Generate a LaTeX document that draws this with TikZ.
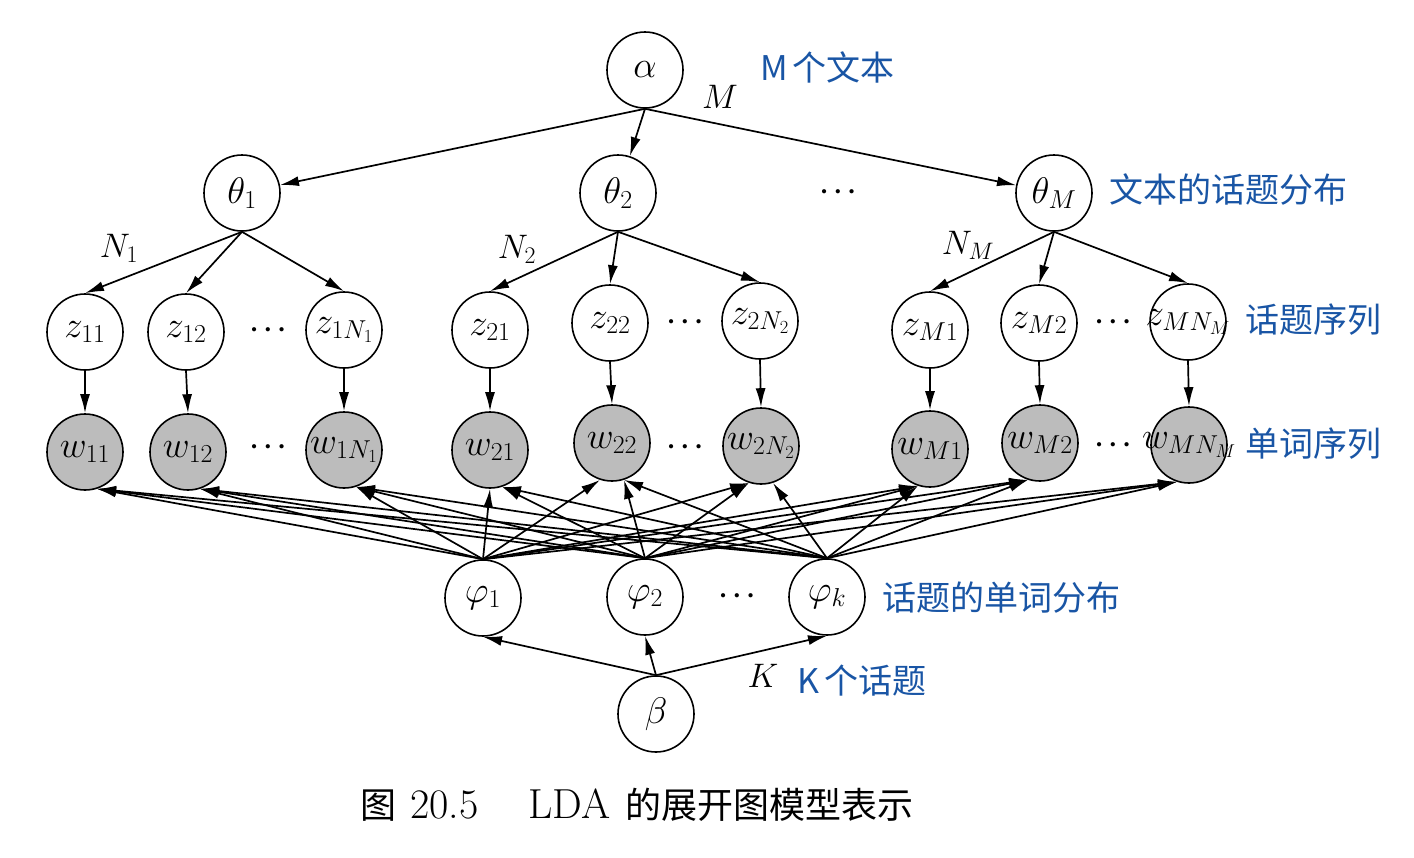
\RequirePackage{fix-cm}
\documentclass[tikz,border=0pt]{standalone}
\usepackage{fontspec}
\newfontfamily\cjk{Noto Sans CJK SC}
\usetikzlibrary{arrows.meta}
\definecolor{lblue}{RGB}{25,85,165}
\definecolor{wgray}{RGB}{188,188,188}
\newcommand{\zb}[1]{\makebox[0pt]{#1}}
\begin{document}
\begin{tikzpicture}[x=1pt,y=-1pt,
  var/.style={circle,draw,fill=white,line width=1.6pt,minimum size=76pt,inner sep=0pt,font=\fontsize{37}{42}\selectfont},
  obs/.style={var,fill=wgray},
  edge/.style={line width=1.7pt,-{Latex[length=19pt,width=10pt]}},
  lab/.style={font=\fontsize{34}{40}\selectfont,inner sep=0pt},
  note/.style={text=lblue,font=\cjk\fontsize{34}{40}\selectfont,anchor=west,inner sep=0pt},
  dots/.style={font=\fontsize{27}{32}\selectfont\boldmath,inner sep=0pt}
]
\fill[white] (0,0) rectangle (1414,857);
\useasboundingbox (0,0) rectangle (1414,857);

% top
\node[var] (a) at (645,70) {$\alpha$};
\node[var] (t1) at (242,193) {$\theta_1$};
\node[var] (t2) at (618,193) {$\theta_2$};
\node[var] (tM) at (1054,193) {$\theta_M$};
\node[dots] (dt) at (838,192) {$\cdots$};

% z row
\node[var] (z11) at (85,332) {\zb{$z_{11}$}};
\node[var] (z12) at (186,332) {\zb{$z_{12}$}};
\node[var] (z1N) at (344,330) {\zb{$z_{1N_1}$}};
\node[var] (z21) at (490,330) {\zb{$z_{21}$}};
\node[var] (z22) at (610,323) {\zb{$z_{22}$}};
\node[var] (z2N) at (760,321) {\zb{$z_{2N_2}$}};
\node[var] (zM1) at (930,330) {\zb{$z_{M1}$}};
\node[var] (zM2) at (1039,323) {\zb{$z_{M2}$}};
\node[var] (zMN) at (1188,322) {\zb{$z_{MN_M}$}};
\node[dots] (dz1) at (268,330) {$\cdots$};
\node[dots] (dz2) at (685,322) {$\cdots$};
\node[dots] (dz3) at (1113,322) {$\cdots$};

% w row
\node[obs] (w11) at (85,452) {\zb{$w_{11}$}};
\node[obs] (w12) at (188,452) {\zb{$w_{12}$}};
\node[obs] (w1N) at (344,450) {\zb{$w_{1N_1}$}};
\node[obs] (w21) at (490,450) {\zb{$w_{21}$}};
\node[obs] (w22) at (612,443) {\zb{$w_{22}$}};
\node[obs] (w2N) at (761,446) {\zb{$w_{2N_2}$}};
\node[obs] (wM1) at (930,449) {\zb{$w_{M1}$}};
\node[obs] (wM2) at (1040,443) {\zb{$w_{M2}$}};
\node[obs] (wMN) at (1189,445) {\zb{$w_{MN_M}$}};
\node[dots] (dw1) at (268,447) {$\cdots$};
\node[dots] (dw2) at (685,447) {$\cdots$};
\node[dots] (dw3) at (1113,445) {$\cdots$};

% phi row
\node[var] (p1) at (483,598) {$\varphi_1$};
\node[var] (p2) at (645,597) {$\varphi_2$};
\node[var] (pk) at (827,597) {$\varphi_k$};
\node[dots] (dp) at (737,596) {$\cdots$};
\node[var] (b) at (656,714) {$\beta$};

% edges alpha -> theta
\foreach \t in {t1,t2,tM} \draw[edge] (a.south) -- (\t);
% theta -> z
\draw[edge] (t1.south) -- (z11.north);
\draw[edge] (t1.south) -- (z12.north);
\draw[edge] (t1.south) -- (z1N.north);
\draw[edge] (t2.south) -- (z21.north);
\draw[edge] (t2.south) -- (z22.north);
\draw[edge] (t2.south) -- (z2N.north);
\draw[edge] (tM.south) -- (zM1.north);
\draw[edge] (tM.south) -- (zM2.north);
\draw[edge] (tM.south) -- (zMN.north);
% z -> w
\foreach \n in {11,12,1N,21,22,2N,M1,M2,MN} \draw[edge] (z\n.south) -- (w\n.north);
% phi -> w
\foreach \p/\px in {p1/483,p2/645,pk/827}
  \foreach \w/\wx in {w11/85,w12/188,w1N/344,w21/490,w22/612,w2N/761,wM1/930,wM2/1040,wMN/1189}
  {\pgfmathtruncatemacro\ang{ifthenelse(\px>\wx+30,-72,ifthenelse(\px<\wx-30,-108,-90))}
   \draw[edge] (\p.north) -- (\w.\ang);}
% beta -> phi
\foreach \p in {p1,p2,pk} \draw[edge] (b.north) -- (\p.south);

% italic labels
\node[lab] (lM) at (720,97) {$M$};
\node[lab] (lN1) at (119,248) {$N_1$};
\node[lab] (lN2) at (517,249) {$N_2$};
\node[lab] (lNM) at (968,245) {$N_M$};
\node[lab] (lK) at (763,676) {$K$};

% blue notes
\node[note] (n1) at (760,67) {M\hspace{5pt}个文本};
\node[note] (n2) at (1109,190) {文本的话题分布};
\node[note] (n3) at (1245,320) {话题序列};
\node[note] (n4) at (1245,444) {单词序列};
\node[note] (n5) at (882,598) {话题的单词分布};
\node[note] (n6) at (797,681) {K\hspace{5pt}个话题};

% caption
\node[anchor=west,inner sep=0pt,font=\fontsize{42}{48}\selectfont] (cap) at (360,805)
  {{\cjk\fontsize{36}{44}\selectfont 图}\hspace{14pt}20.5\hspace{50pt}LDA\hspace{15pt}{\cjk\fontsize{36}{44}\selectfont 的展开图模型表示}};
\end{tikzpicture}
\end{document}
